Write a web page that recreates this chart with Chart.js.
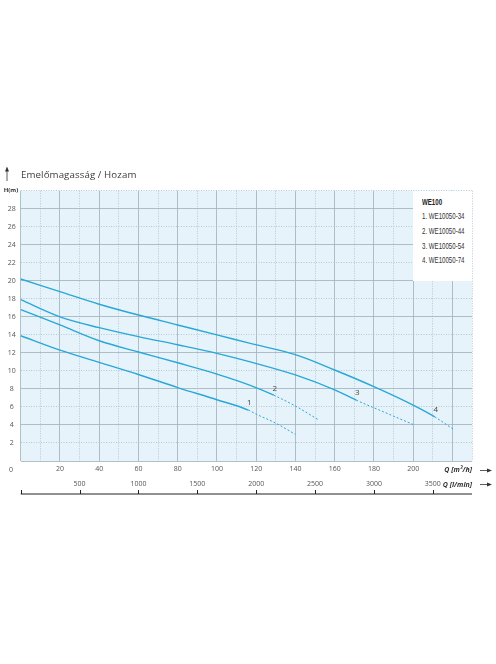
<!DOCTYPE html>
<html>
<head>
<meta charset="utf-8">
<script src="https://cdn.jsdelivr.net/npm/chart.js@4.4.1/dist/chart.umd.min.js"></script>
<style>
  html, body { margin: 0; padding: 0; background: #fff; }
  #wrap { position: relative; width: 496px; height: 664px; }
  #title { position: absolute; left: 21px; top: 168px; font: 9.7px/14px "Open Sans", sans-serif; color: #3c3c3c; white-space: nowrap; letter-spacing: 0.1px; }
  #legend { position: absolute; left: 413px; top: 191px; width: 59px; height: 90px; background: #fff; box-sizing: border-box;
            padding: 3.6px 0 0 8.7px; color: #333; white-space: nowrap; overflow: hidden; }
  #legend .in { font: 8.4px/14.7px "Liberation Sans", "Open Sans", sans-serif; transform: scaleX(0.73); transform-origin: 0 0; }
  #legend b { color: #1e1e1e; }
</style>
</head>
<body>
<div id="wrap">
  <canvas id="chart"></canvas>
  <div id="title">Emelőmagasság / Hozam</div>
  <div id="legend"><div class="in"></div></div>
</div>
<script>
// pump curves, Q in m3/h, H in m
const q1 = [0, 20, 40, 60, 80, 100, 116, 120, 130, 140];
const h1 = [13.9, 12.3, 10.95, 9.6, 8.15, 6.8, 5.65, 5.2, 4.2, 2.95];
const q2 = [0, 20, 40, 60, 80, 100, 117, 129, 140, 151.5];
const h2 = [16.8, 15.1, 13.35, 12.1, 10.9, 9.65, 8.4, 7.3, 6.1, 4.6];
const q3 = [0, 20, 40, 60, 80, 100, 117, 140, 160, 171, 185, 200];
const h3 = [17.9, 16.0, 14.8, 13.8, 12.9, 11.95, 11.0, 9.55, 7.9, 6.75, 5.45, 4.05];
const q4 = [0, 20, 40, 60, 80, 100, 117, 140, 160, 180, 200, 211, 221];
const h4 = [20.2, 18.8, 17.4, 16.2, 15.1, 14.0, 13.05, 11.8, 10.1, 8.25, 6.2, 4.9, 3.45];
// where the solid part of each curve stops (dashed after)
const solidEnd = [116, 129, 171, 211];
const curveNames = ['1. WE10050-34', '2. WE10050-44', '3. WE10050-54', '4. WE10050-74'];
const legendTitle = 'WE100';
const qMax = 230;
const hMax = 30;
const qLabelMax = 200;
const lminPerM3h = 1000 / 60;
const lminTicks = [0, 500, 1000, 1500, 2000, 2500, 3000, 3500];

const lineColor = '#29a8d8';
const majorGrid = '#9fb0bc';
const minorGrid = '#a8bccb';
const textColor = '#555';

document.querySelector('#legend .in').innerHTML =
  '<b>' + legendTitle + '</b><br>' + curveNames.join('<br>');

const curves = [[q1, h1], [q2, h2], [q3, h3], [q4, h4]];
const datasets = curves.map(([q, h], i) => ({
  label: curveNames[i],
  data: q.map((x, j) => ({ x: x, y: h[j] })),
  borderColor: lineColor,
  borderWidth: 1.4,
  pointRadius: 0,
  fill: false,
  cubicInterpolationMode: 'monotone',
  segment: {
    borderDash: c => c.p0.parsed.x >= solidEnd[i] ? [2, 2] : undefined,
    borderWidth: c => c.p0.parsed.x >= solidEnd[i] ? 1 : undefined,
  },
}));

const tickFont = { size: 7, family: '"Open Sans", sans-serif' };

const arrowRight = (ctx, x0, x1, y) => {
  ctx.beginPath(); ctx.moveTo(x0, y); ctx.lineTo(x1 - 3, y); ctx.stroke();
  ctx.beginPath(); ctx.moveTo(x1, y); ctx.lineTo(x1 - 5, y - 2); ctx.lineTo(x1 - 5, y + 2); ctx.closePath(); ctx.fill();
};

const extras = {
  id: 'extras',
  beforeDraw(chart) {
    const { ctx, chartArea: a } = chart;
    ctx.save();
    ctx.fillStyle = '#e6f3fa';
    ctx.fillRect(a.left, a.top, a.right - a.left, a.bottom - a.top);
    ctx.restore();
  },
  afterDraw(chart) {
    const { ctx, chartArea: a } = chart;
    const xs = chart.scales.x, ys = chart.scales.y, x2 = chart.scales.x2;
    ctx.save();

    // curve numbers at the end of the solid part
    ctx.fillStyle = '#444';
    ctx.font = '8px "Open Sans", sans-serif';
    ctx.textAlign = 'center';
    ctx.textBaseline = 'middle';
    curves.forEach(([q, h], i) => {
      const j = q.indexOf(solidEnd[i]);
      ctx.fillText(String(i + 1), xs.getPixelForValue(q[j]) + 1, ys.getPixelForValue(h[j]) - 7);
    });

    // l/min axis line with ticks
    const ly = x2.bottom - 1;
    ctx.strokeStyle = '#222';
    ctx.lineWidth = 1.2;
    ctx.beginPath(); ctx.moveTo(a.left, ly); ctx.lineTo(a.right, ly); ctx.stroke();
    ctx.lineWidth = 1;
    x2.ticks.forEach(t => {
      const px = Math.round(x2.getPixelForValue(t.value)) + 0.5;
      ctx.beginPath(); ctx.moveTo(px, ly); ctx.lineTo(px, ly - 4); ctx.stroke();
    });

    // origin, unit labels
    ctx.fillStyle = textColor;
    ctx.font = '7px "Open Sans", sans-serif';
    ctx.fillText('0', 11, 469.5);
    ctx.fillStyle = '#333';
    ctx.font = 'bold 6px "Open Sans", sans-serif';
    ctx.fillText('H(m)', 11, 190.5);
    ctx.font = 'italic bold 7px "Open Sans", sans-serif';
    ctx.textAlign = 'right';
    ctx.fillText('Q [m\u00b3/h]', 472, 470);
    ctx.fillText('Q [l/min]', 472, 484.5);

    // arrows
    ctx.strokeStyle = '#333';
    ctx.fillStyle = '#333';
    ctx.lineWidth = 0.8;
    arrowRight(ctx, 480, 492, 470.5);
    arrowRight(ctx, 480, 492, 484.5);
    ctx.beginPath(); ctx.moveTo(7, 181); ctx.lineTo(7, 170); ctx.stroke();
    ctx.beginPath(); ctx.moveTo(7, 166.5); ctx.lineTo(5, 171.5); ctx.lineTo(9, 171.5); ctx.closePath(); ctx.fill();
    ctx.restore();
  },
};

const chart = new Chart(document.getElementById('chart'), {
  type: 'line',
  data: { datasets: datasets },
  plugins: [extras],
  options: {
    responsive: true,
    maintainAspectRatio: false,
    animation: false,
    layout: { padding: { top: 190.7, right: 24, bottom: 169, left: 0 } },
    plugins: { legend: { display: false }, tooltip: { enabled: false } },
    scales: {
      x: {
        type: 'linear', position: 'bottom', weight: 0,
        min: 0, max: qMax,
        ticks: {
          stepSize: 10, autoSkip: false, maxRotation: 0, padding: 4, color: textColor, font: tickFont,
          callback: v => (v > 0 && v <= qLabelMax && v % 20 === 0) ? v : '',
        },
        grid: {
          drawTicks: false, lineWidth: 0.8,
          color: c => (c.tick && c.tick.value % 20) ? minorGrid : majorGrid,
        },
        border: { display: false, dash: c => (c.tick && c.tick.value % 20) ? [1, 1.5] : [] },
        afterFit: s => { s.height = 14; },
      },
      x2: {
        type: 'linear', position: 'bottom', weight: 1,
        min: 0, max: qMax * lminPerM3h,
        afterBuildTicks: s => { s.ticks = lminTicks.map(v => ({ value: v })); },
        ticks: {
          autoSkip: false, maxRotation: 0, padding: 5, color: textColor, font: tickFont,
          callback: v => v > 0 ? v : '',
        },
        grid: { display: false, drawTicks: false },
        border: { display: false },
        afterFit: s => { s.height = 20; },
      },
      y: {
        type: 'linear', min: 0, max: hMax,
        ticks: {
          stepSize: 2, padding: 5, crossAlign: 'center', color: textColor, font: tickFont,
          callback: v => (v > 0 && v < hMax) ? v : '',
        },
        grid: {
          drawTicks: false, lineWidth: 0.8,
          color: c => (c.tick && c.tick.value % 4) ? minorGrid : majorGrid,
        },
        border: { display: false, dash: c => (c.tick && c.tick.value % 4) ? [1, 1.5] : [] },
        afterFit: s => { s.width = 20.7; },
      },
    },
  },
});
</script>
</body>
</html>
